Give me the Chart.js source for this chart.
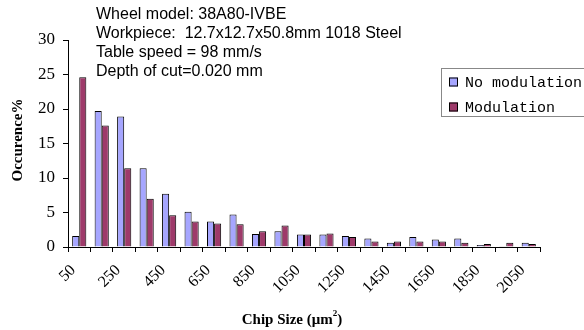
<!DOCTYPE html>
<html>
<head>
<meta charset="utf-8">
<script src="https://cdn.jsdelivr.net/npm/chart.js@4/dist/chart.umd.min.js"></script>
<style>
  html,body{margin:0;padding:0;background:#fff;}
  #wrap{width:584px;height:330px;position:relative;}
</style>
</head>
<body>
<div id="wrap"><canvas id="c" width="584" height="330"></canvas></div>
<script>
// chip size classes (um^2)
const sizes = ['50','150','250','350','450','550','650','750','850','950','1050',
               '1150','1250','1350','1450','1550','1650','1750','1850','1950','2050'];
const noModulation = [1.6,19.7,18.9,11.4,7.7,5.1,3.7,4.7,1.9,2.3,1.8,
                      1.8,1.6,1.25,0.6,1.45,1.1,1.25,0.3,0.1,0.6];
const modulation   = [24.6,17.6,11.4,7.0,4.6,3.7,3.4,3.3,2.3,3.1,1.8,
                      1.95,1.45,0.8,0.8,0.8,0.8,0.6,0.45,0.6,0.45];
const yTicks = [0,5,10,15,20,25,30];
const notes = ['Wheel model: 38A80-IVBE',
               'Workpiece:  12.7x12.7x50.8mm 1018 Steel',
               'Table speed = 98 mm/s',
               'Depth of cut=0.020 mm'];

const BLUE='#a6a6ff', RED='#9e3a6a';

// текст, легенда и подписи осей
const extras = {
  id:'extras',
  afterDraw(chart){
    const ctx=chart.ctx;
    ctx.save();
    ctx.fillStyle='#000';
    ctx.font='16px "Liberation Sans", Arial, sans-serif';
    ctx.textBaseline='middle';
    ctx.textAlign='left';
    notes.forEach((t,i)=> ctx.fillText(t, 96, 15+i*18.7));

    // legend
    ctx.strokeStyle='#888';
    ctx.lineWidth=1;
    ctx.strokeRect(441.5,68.5,160,48);
    const items=[['No modulation',BLUE],['Modulation',RED]];
    ctx.font='15px "Liberation Mono", monospace';
    items.forEach((it,i)=>{
      const y=82+i*25;
      ctx.fillStyle=it[1];
      ctx.fillRect(449,y-4.5,9,9);
      ctx.strokeStyle='#000';
      ctx.strokeRect(449.5,y-4,8,8);
      ctx.fillStyle='#000';
      ctx.fillText(it[0],465,y+1);
    });

    // y title
    ctx.save();
    ctx.translate(18,140);
    ctx.rotate(-Math.PI/2);
    ctx.textAlign='center';
    ctx.font='bold 15px "Liberation Serif", "Times New Roman", serif';
    ctx.fillText('Occurence%',0,0);
    ctx.restore();

    // x title with superscript
    const a='Chip Size (\u03bcm', b=')';
    ctx.font='bold 15px "Liberation Serif", serif';
    const wa=ctx.measureText(a).width, wb=ctx.measureText(b).width;
    ctx.font='bold 9px "Liberation Serif", serif';
    const w2=ctx.measureText('2').width;
    let x=292-(wa+w2+wb)/2;
    ctx.textAlign='left';
    ctx.font='bold 15px "Liberation Serif", serif';
    ctx.fillText(a,x,320);
    ctx.font='bold 9px "Liberation Serif", serif';
    ctx.fillText('2',x+wa,314);
    ctx.font='bold 15px "Liberation Serif", serif';
    ctx.fillText(b,x+wa+w2,320);
    ctx.restore();
  }
};

new Chart(document.getElementById('c'),{
  type:'bar',
  data:{
    labels:sizes,
    datasets:[
      {label:'No modulation',data:noModulation,backgroundColor:BLUE,borderColor:'#000',borderWidth:1},
      {label:'Modulation',data:modulation,backgroundColor:RED,borderColor:'#000',borderWidth:1}
    ]
  },
  options:{
    responsive:false,
    animation:false,
    devicePixelRatio:1,
    layout:{padding:{left:0,top:40,right:44,bottom:0}},
    datasets:{bar:{categoryPercentage:0.63,barPercentage:1}},
    plugins:{legend:{display:false},tooltip:{enabled:false}},
    scales:{
      x:{
        afterFit(s){ s.height=83; },
        grid:{display:true,drawOnChartArea:false,drawTicks:true,tickLength:5,color:'#000'},
        border:{display:true,color:'#000',width:1},
        ticks:{
          autoSkip:false,minRotation:45,maxRotation:45,color:'#000',padding:9,labelOffset:-6,
          font:{family:'"Liberation Serif", "Times New Roman", serif',size:16},
          callback(v,i){ return i%2===0 ? sizes[i] : ''; }
        }
      },
      y:{
        min:0,max:30,
        afterFit(s){ s.width=68; },
        afterBuildTicks(s){ s.ticks=yTicks.map(v=>({value:v})); },
        grid:{display:true,drawOnChartArea:false,drawTicks:true,tickLength:5,color:'#000'},
        border:{display:true,color:'#000',width:1},
        ticks:{color:'#000',padding:8,
          font:{family:'"Liberation Serif", "Times New Roman", serif',size:17}}
      }
    }
  },
  plugins:[extras]
});
</script>
</body>
</html>
